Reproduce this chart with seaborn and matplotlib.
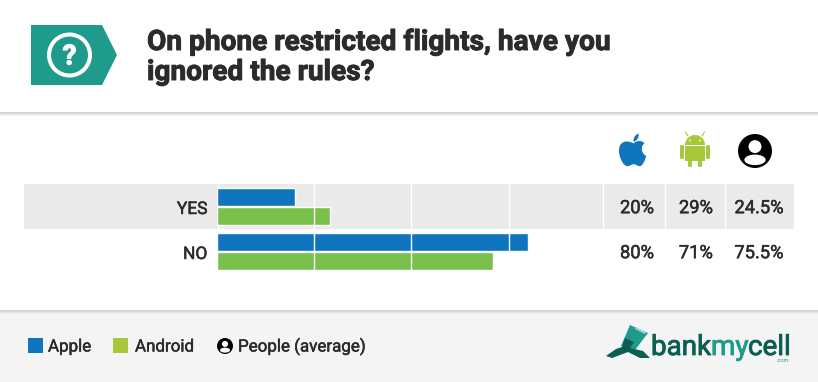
import pandas as pd
import seaborn as sns
from matplotlib import pyplot as plt
from matplotlib import transforms
from matplotlib import patheffects as pe
from matplotlib.patches import Rectangle, Circle, Polygon, PathPatch, FancyBboxPatch, Wedge, Ellipse
from matplotlib.path import Path

categories = ['YES', 'NO']
apple = [20, 80]
android = [29, 71]
people = [24.5, 75.5]
legend_labels = ['Apple', 'Android', 'People (average)']
grid_values = [25, 50, 75]
title_lines = ['On phone restricted flights, have you', 'ignored the rules?']

BLUE = '#0f75bc'
BAR_GREEN = '#7ac14b'
ANDROID_GREEN = '#a6c83a'
TEAL = '#1f9b8c'
DARK = '#2b2b2b'
W, H = 818, 382


def heavy(width, color=DARK):
    """Fake the heavier weight with a thin outline in the text colour"""
    return [pe.withStroke(linewidth=width, foreground=color)]


def person_icon(ax, x, y, r):
    """black disc with a white head and shoulders"""
    ax.add_patch(Circle((x, y), r, color='black', lw=0))
    ax.add_patch(Circle((x, y - r * 0.26), r * 0.38, color='white', lw=0))
    ax.add_patch(Ellipse((x, y + r * 0.52), r * 1.25, r * 0.62, color='white', lw=0))


def apple_icon(ax, x, y, sx, sy):
    """x, y is the middle of the icon, sx and sy its size in pixels"""
    pts = [(0.02, -0.20),
           (-0.18, -0.30), (-0.50, -0.30), (-0.50, 0.02),
           (-0.50, 0.24), (-0.34, 0.49), (-0.20, 0.49),
           (-0.10, 0.49), (-0.06, 0.43), (0.03, 0.43),
           (0.12, 0.43), (0.14, 0.49), (0.24, 0.49),
           (0.34, 0.49), (0.44, 0.30), (0.47, 0.18),
           (0.32, 0.12), (0.24, -0.10), (0.41, -0.20),
           (0.32, -0.30), (0.14, -0.30), (0.02, -0.20)]
    codes = [Path.MOVETO] + [Path.CURVE4] * (len(pts) - 1)
    path = Path([(x + px * sx, y + py * sy) for px, py in pts], codes)
    ax.add_patch(PathPatch(path, color=BLUE, lw=0))
    leaf = [(0.02, -0.25), (0.00, -0.40), (0.12, -0.48), (0.20, -0.50), (0.22, -0.36), (0.12, -0.26), (0.02, -0.25)]
    codes = [Path.MOVETO] + [Path.CURVE4] * 6
    ax.add_patch(PathPatch(Path([(x + px * sx, y + py * sy) for px, py in leaf], codes), color=BLUE, lw=0))


def android_icon(ax, x, y):
    def rbox(x0, y0, w, h, r=1.5):
        ax.add_patch(FancyBboxPatch((x0 + r, y0 + r), w - 2 * r, h - 2 * r,
                                    boxstyle='round,pad=%s' % r, color=ANDROID_GREEN, lw=0))
    # head
    ax.add_patch(Wedge((x, y - 6), 10, 180, 360, color=ANDROID_GREEN, lw=0))
    ax.plot([x - 7, x - 9.5], [y - 15, y - 19], color=ANDROID_GREEN, lw=0.8)
    ax.plot([x + 7, x + 9.5], [y - 15, y - 19], color=ANDROID_GREEN, lw=0.8)
    ax.add_patch(Circle((x - 5, y - 10.5), 0.9, color='white', lw=0))
    ax.add_patch(Circle((x + 5, y - 10.5), 0.9, color='white', lw=0))
    # body, arms, legs
    ax.add_patch(Rectangle((x - 10, y - 5), 20, 15, color=ANDROID_GREEN, lw=0))
    rbox(x - 15, y - 6, 4, 14)
    rbox(x + 11, y - 6, 4, 14)
    rbox(x - 7, y + 6, 4, 10)
    rbox(x + 3, y + 6, 4, 10)


def main():
    sns.set_theme(style='white')
    plt.rcParams['font.family'] = ['Roboto', 'DejaVu Sans']

    fig = plt.figure(figsize=(W / 100, H / 100), dpi=100, facecolor='white')

    """Pixel canvas behind everything"""
    bg = fig.add_axes([0, 0, 1, 1], zorder=0)
    bg.set_xlim(0, W)
    bg.set_ylim(H, 0)
    bg.axis('off')

    # header shadow and footer
    for i, c in enumerate(['#d2d2d2', '#dcdcdc', '#e9e9e9', '#f4f4f4']):
        bg.add_patch(Rectangle((0, 112 + i), W, 1, color=c, lw=0))
    bg.add_patch(Rectangle((0, 310), W, H - 310, color='#f4f4f4', lw=0))
    for i, c in enumerate(['#d2d2d2', '#dadada', '#e4e4e4', '#eeeeee']):
        bg.add_patch(Rectangle((0, 310 + i), W, 1, color=c, lw=0))

    # question badge
    bg.add_patch(Polygon([(31, 25), (102, 25), (117, 55), (102, 85), (31, 85)], color=TEAL, lw=0))
    bg.add_patch(Circle((69.5, 55), 20.5, fc='none', ec='white', lw=2.9))
    bg.text(69.5, 57, '?', color='white', fontsize=20, fontweight='bold', ha='center', va='center',
            path_effects=heavy(0.8, 'white'))

    for line, y in zip(title_lines, [50, 80]):
        bg.text(147, y, line, color=DARK, fontsize=20.2, fontweight='bold', va='baseline',
                path_effects=heavy(0.7))

    # grey row and column gaps
    bg.add_patch(Rectangle((24, 184), 770, 45, color='#eaeaea', lw=0))
    for x in [217.5, 602.5, 664.5, 724.5]:
        bg.plot([x, x], [184, 229], color='white', lw=1, solid_capstyle='butt')

    apple_icon(bg, 633, 150, 28, 33)
    android_icon(bg, 695, 151)
    person_icon(bg, 755, 151, 17)

    """Bars"""
    df = pd.DataFrame({
        'answer': categories * 2,
        'share': apple + android,
        'brand': ['Apple'] * len(apple) + ['Android'] * len(android),
    })
    ax = fig.add_axes([217 / W, 1 - 274 / H, 385 / W, 90 / H], zorder=1)
    sns.barplot(data=df, y='answer', x='share', hue='brand', order=categories,
                palette={'Apple': BLUE, 'Android': BAR_GREEN}, width=0.86, gap=0.1,
                saturation=1, legend=False, ax=ax)
    ax.set_xlim(0, 385 / 3.89)
    ax.set_ylim(1.5, -0.5)
    ax.patch.set_visible(False)
    sns.despine(ax=ax, left=True, bottom=True)
    ax.set_xlabel('')
    ax.set_ylabel('')
    ax.set_xticks([])
    ax.tick_params(axis='y', length=0, pad=7, labelsize=12.5, labelcolor=DARK)
    shift = transforms.ScaledTranslation(0, -1.5 / 100, fig.dpi_scale_trans)
    for label in ax.get_yticklabels():
        label.set_path_effects(heavy(0.35))
        label.set_transform(label.get_transform() + shift)
    for v in grid_values:
        ax.axvline(v, color='white', lw=1, zorder=5)

    """Percent columns"""
    trans = transforms.blended_transform_factory(bg.transData, ax.transData)
    trans = transforms.offset_copy(trans, fig=fig, y=-1.2, units='points')
    for x, values in zip([637, 696, 759], [apple, android, people]):
        for i, v in enumerate(values):
            ax.text(x, i, '%g%%' % v, transform=trans, ha='center', va='center', color=DARK,
                    fontsize=13.2, clip_on=False, path_effects=heavy(0.35))

    """Footer legend"""
    bg.add_patch(Rectangle((28, 338), 15, 15, color=BLUE, lw=0))
    bg.add_patch(Rectangle((113, 338), 15, 15, color=ANDROID_GREEN, lw=0))
    person_icon(bg, 225, 346, 8)
    for x, label in zip([48, 135, 238], legend_labels):
        bg.text(x, 351.5, label, color=DARK, fontsize=12.2, va='baseline', path_effects=heavy(0.35))

    """Logo"""
    bg.add_patch(Polygon([(630, 325), (648, 333), (635, 350), (621, 346)], color=TEAL, lw=0))
    bg.add_patch(Polygon([(636, 327), (646, 332), (645, 334), (635, 329)], color='#9fd8cf', lw=0))
    bg.add_patch(Polygon([(625, 338), (634, 342), (630, 348), (643, 351), (650, 358), (640, 358),
                          (628, 352), (612, 358), (606, 356), (616, 349), (622, 347)], color='#0b5f52', lw=0))
    for x, s, c in [(651, 'bank', '#0b5f52'), (711, 'my', '#1f9b8c'), (748, 'cell', '#0b5f52')]:
        bg.text(x, 355, s, color=c, fontsize=20, va='baseline', path_effects=heavy(0.6, c))
    bg.text(789, 361.5, '.com', color=TEAL, fontsize=4, ha='right', va='baseline')

    fig.savefig('out.png', dpi=100, facecolor='white')


if __name__ == '__main__':
    main()
